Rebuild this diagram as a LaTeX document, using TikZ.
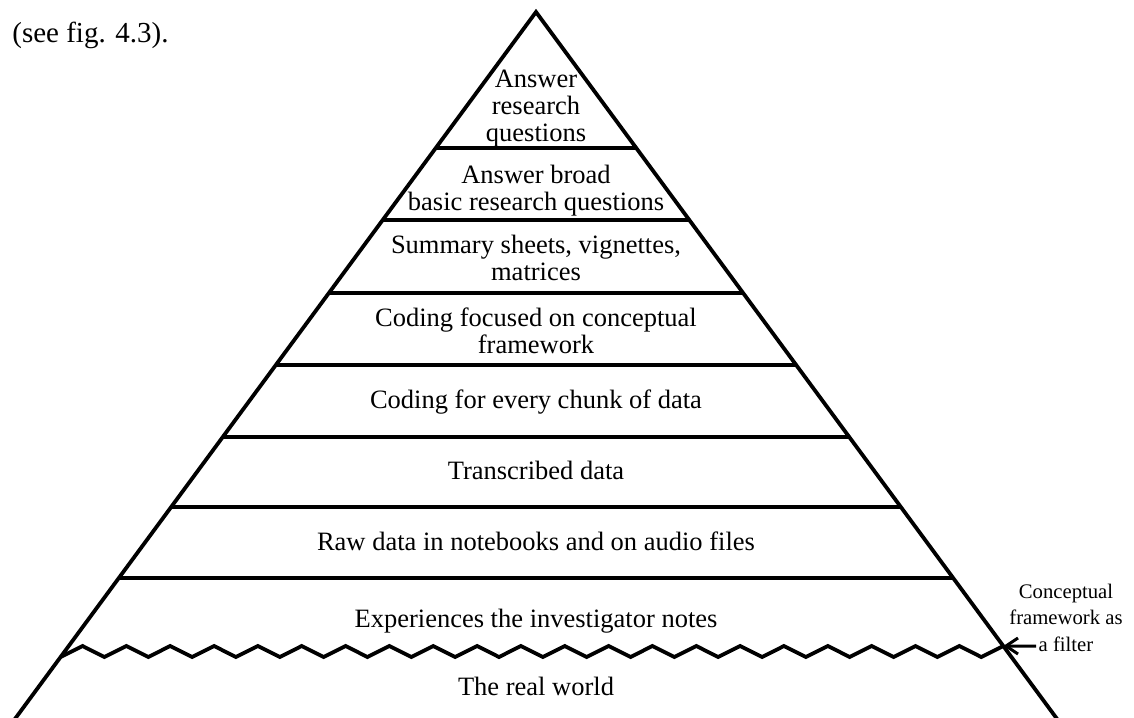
\documentclass[tikz,border=0pt]{standalone}
\usepackage{fontspec}
\setmainfont{Liberation Serif}
\usetikzlibrary{calc,arrows.meta}
\begin{document}
\begin{tikzpicture}[x=0.5pt,y=-0.5pt,
  edge/.style={line width=1.9pt, line join=miter},
  layer/.style={line width=1.9pt},
  zig/.style={line width=1.9pt, line join=miter},
  pointer/.style={line width=1.5pt, -{Straight Barb[length=6pt,width=8pt,line width=1.5pt]}},
  lbl/.style={anchor=base, align=center, inner sep=0pt,
    font=\fontsize{13.25}{13.5}\selectfont},
  side/.style={anchor=base, align=center, inner sep=0pt,
    font=\fontsize{10.35}{13.25}\selectfont},
  caption/.style={anchor=base west, inner sep=0pt,
    font=\fontsize{14.5}{17}\selectfont}]
\useasboundingbox (0,0) rectangle (1134,717);
\clip (0,0) rectangle (1134,717);

% pyramid outline
\coordinate (apex) at (536,12);
\coordinate (bl) at (6.8,730);
\coordinate (br) at (1065.2,730);
\draw[edge] (bl) -- (apex) -- (br);

% horizontal layer boundaries
\foreach \y in {148,220,293,365,437,507,578} {
  \pgfmathsetmacro\t{(\y-12)/718}
  \draw[layer] ($(apex)!\t!(bl)$) -- ($(apex)!\t!(br)$);
}

% zigzag filter line
\coordinate (zl) at ($(apex)!{(657-12)/718}!(bl)$);
\coordinate (zr) at ($(apex)!{(646-12)/718}!(br)$);
\draw[zig] (zl)
  \foreach \k [evaluate=\k as \zx using {60.6+21.92*\k},
               evaluate=\k as \zy using {mod(\k,2)==1 ? 646 : 657}] in {1,...,42} { -- (\zx,\zy) }
  -- (zr);

% layer texts (anchored at the baseline of the last line)
\node[lbl] (top) at (536,141) {Answer\\research\\questions};
\node[lbl] (broad) at (536,210) {Answer broad\\basic research questions};
\node[lbl] (summary) at (536,280) {Summary sheets, vignettes,\\matrices};
\node[lbl] (focused) at (536,353) {Coding focused on conceptual\\framework};
\node[lbl] (chunk) at (536,408) {Coding for every chunk of data};
\node[lbl] (transcribed) at (536,479) {Transcribed data};
\node[lbl] (raw) at (536,550) {Raw data in notebooks and on audio files};
\node[lbl] (experiences) at (536,627) {Experiences the investigator notes};
\node[lbl] (real) at (536,695) {The real world};

% filter label and pointer
\node[side] (filter) at (1066,651) {Conceptual\\framework as\\a filter};
\coordinate (ftail) at (1036,646);
\draw[pointer] (ftail) -- (zr);

% caption fragment
\node[caption] (see) at (12,43) {(see fig. 4.3).};
\end{tikzpicture}
\end{document}
